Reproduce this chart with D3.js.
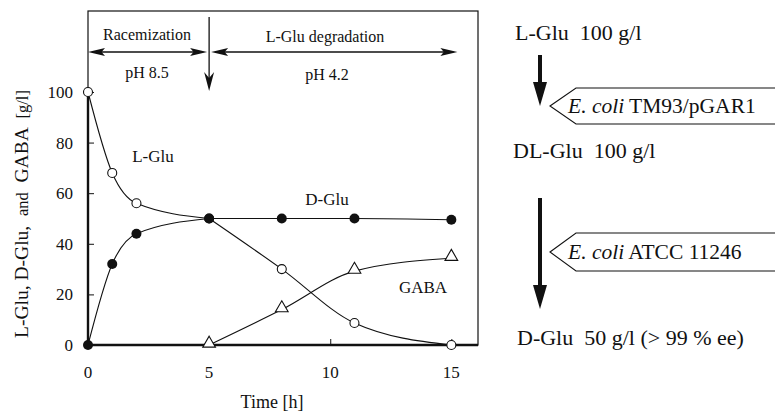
<!DOCTYPE html>
<html>
<head>
<meta charset="utf-8">
<script src="https://cdn.jsdelivr.net/npm/d3@7"></script>
<style>
  body { margin: 0; background: #fff; }
  svg text { font-family: "Liberation Serif", "Times New Roman", serif; fill: #111; }
</style>
</head>
<body>
<svg id="chart" width="775" height="415"></svg>
<script>
// time points [h]
const time = [0, 1, 2, 5, 8, 11, 15];
const lGlu = [100, 68, 56, 50, 30, 8.7, 0];
const dGlu = [0, 32, 44, 50, 50, 50, 49.5];
const gabaTime = [5, 8, 11, 15];
const gaba = [0, 14, 29.2, 34.3];
const xTicks = [0, 5, 10, 15];
const yTicks = [0, 20, 40, 60, 80, 100];
const phaseSwitch = 5;

const svg = d3.select("#chart");
const x = d3.scaleLinear().domain([0, 16.1]).range([88, 478]);
const y = d3.scaleLinear().domain([0, 132]).range([345, 11]);

// frame
svg.append("rect")
    .attr("x", x(0)).attr("y", y(132))
    .attr("width", x(16.1) - x(0)).attr("height", y(0) - y(132))
    .attr("fill", "none").attr("stroke", "#111").attr("stroke-width", 1.2);

// axes: ticks pointing inward, thick baseline
const xAxis = svg.append("g")
    .attr("transform", `translate(0,${y(0)})`)
    .call(d3.axisTop(x).tickValues(xTicks).tickSize(6).tickFormat(""));
xAxis.select(".domain").remove();
xAxis.selectAll("line").attr("stroke", "#111");

const yAxis = svg.append("g")
    .attr("transform", `translate(${x(0)},0)`)
    .call(d3.axisRight(y).tickValues(yTicks).tickSize(6).tickFormat(""));
yAxis.select(".domain").remove();
yAxis.selectAll("line").attr("stroke", "#111");

svg.append("line").attr("x1", x(0)).attr("x2", x(16.1)).attr("y1", y(0)).attr("y2", y(0))
    .attr("stroke", "#111").attr("stroke-width", 2.4);
svg.append("line").attr("x1", x(0)).attr("x2", x(0)).attr("y1", y(0)).attr("y2", y(100))
    .attr("stroke", "#111").attr("stroke-width", 2.4);

svg.append("g").selectAll("text").data(xTicks).join("text")
    .attr("x", d => x(d)).attr("y", 378)
    .attr("text-anchor", "middle").attr("font-size", 17)
    .text(d => d);
svg.append("g").selectAll("text").data(yTicks).join("text")
    .attr("x", 73).attr("y", d => y(d)).attr("dy", "0.35em")
    .attr("text-anchor", "end").attr("font-size", 17)
    .text(d => d);

svg.append("text").attr("x", 272).attr("y", 408)
    .attr("text-anchor", "middle").attr("font-size", 18).text("Time [h]");

const yl = svg.append("text")
    .attr("transform", "translate(28,214) rotate(-90)")
    .attr("text-anchor", "middle").attr("font-size", 19.5)
    .attr("xml:space", "preserve");
yl.append("tspan").text("L-Glu, D-Glu,  ");
yl.append("tspan").attr("font-size", 16.5).text("and");
yl.append("tspan").text("  GABA  ");
yl.append("tspan").attr("font-size", 16.5).text("[g/l]");

// curves, split at the pH switch
const line = d3.line().x(d => x(d[0])).y(d => y(d[1])).curve(d3.curveMonotoneX);
function pieces(ts, vs) {
  const pts = ts.map((t, i) => [t, vs[i]]);
  return [pts.filter(p => p[0] <= phaseSwitch), pts.filter(p => p[0] >= phaseSwitch)]
    .filter(s => s.length > 1);
}
const curves = svg.append("g").attr("fill", "none").attr("stroke", "#111").attr("stroke-width", 1.1);
[[time, lGlu], [time, dGlu], [gabaTime, gaba]].forEach(([ts, vs]) => {
  pieces(ts, vs).forEach(seg => curves.append("path").attr("d", line(seg)));
});

// markers
svg.append("g").selectAll("circle").data(time).join("circle")
    .attr("cx", d => x(d)).attr("cy", (d, i) => y(lGlu[i])).attr("r", 4.5)
    .attr("fill", "#fff").attr("stroke", "#111").attr("stroke-width", 1.1);
svg.append("g").selectAll("circle").data(time).join("circle")
    .attr("cx", d => x(d)).attr("cy", (d, i) => y(dGlu[i])).attr("r", 5)
    .attr("fill", "#111");
const tri = d3.symbol().type(d3.symbolTriangle).size(70);
svg.append("g").selectAll("path").data(gabaTime).join("path")
    .attr("transform", (d, i) => `translate(${x(d)},${y(gaba[i]) - 1.5})`)
    .attr("d", tri).attr("fill", "#fff").attr("stroke", "#111").attr("stroke-width", 1.1);

// curve labels
svg.append("text").attr("x", 153).attr("y", 162).attr("text-anchor", "middle").attr("font-size", 17).text("L-Glu");
svg.append("text").attr("x", 327).attr("y", 205).attr("text-anchor", "middle").attr("font-size", 17).text("D-Glu");
svg.append("text").attr("x", 423).attr("y", 293).attr("text-anchor", "middle").attr("font-size", 17).text("GABA");

// phase annotations
function head(g, xTip, yTip, dir, len, half) {
  // dir: 1 pointing right, -1 pointing left
  g.append("path")
      .attr("d", `M${xTip},${yTip} L${xTip - dir * len},${yTip - half} L${xTip - dir * len * 0.8},${yTip} L${xTip - dir * len},${yTip + half} Z`)
      .attr("fill", "#111");
}
const ann = svg.append("g");
function doubleArrow(x1, x2, yy) {
  ann.append("line").attr("x1", x1 + 4).attr("x2", x2 - 4).attr("y1", yy).attr("y2", yy)
      .attr("stroke", "#111").attr("stroke-width", 1.3);
  head(ann, x1, yy, -1, 17, 4);
  head(ann, x2, yy, 1, 17, 4);
}
doubleArrow(x(0), x(phaseSwitch) - 2, 52);
doubleArrow(x(phaseSwitch) + 2, x(15.25), 52);
ann.append("line").attr("x1", x(phaseSwitch)).attr("x2", x(phaseSwitch)).attr("y1", 17).attr("y2", 86)
    .attr("stroke", "#111").attr("stroke-width", 1.3);
ann.append("path")
    .attr("d", `M${x(phaseSwitch)},91 L${x(phaseSwitch) - 5},72 L${x(phaseSwitch)},78 L${x(phaseSwitch) + 5},72 Z`)
    .attr("fill", "#111");

ann.append("text").attr("x", 147).attr("y", 40).attr("text-anchor", "middle").attr("font-size", 16).text("Racemization");
ann.append("text").attr("x", 147).attr("y", 78).attr("text-anchor", "middle").attr("font-size", 16).text("pH 8.5");
ann.append("text").attr("x", 325).attr("y", 42).attr("text-anchor", "middle").attr("font-size", 16).text("L-Glu degradation");
ann.append("text").attr("x", 327).attr("y", 80).attr("text-anchor", "middle").attr("font-size", 16).text("pH 4.2");

// process scheme on the right
const sch = svg.append("g");
const ax = 540;
function bigArrow(y1, y2) {
  sch.append("line").attr("x1", ax).attr("x2", ax).attr("y1", y1).attr("y2", y2 - 20)
      .attr("stroke", "#111").attr("stroke-width", 4);
  sch.append("path").attr("d", `M${ax},${y2} L${ax - 7},${y2 - 24} L${ax + 7},${y2 - 24} Z`).attr("fill", "#111");
}
bigArrow(55, 106);
bigArrow(198, 309);

function banner(yMid, h, label, rest) {
  sch.append("path")
      .attr("d", `M550,${yMid} L576,${yMid - h / 2} L776,${yMid - h / 2} L776,${yMid + h / 2} L576,${yMid + h / 2} Z`)
      .attr("fill", "#fff").attr("stroke", "#111").attr("stroke-width", 1.1);
  const t = sch.append("text").attr("x", 568).attr("y", yMid + 7).attr("font-size", 21.5);
  t.append("tspan").attr("font-style", "italic").text(label);
  t.append("tspan").text(" " + rest);
}
banner(106, 36, "E. coli", "TM93/pGAR1");
banner(252, 38, "E. coli", "ATCC 11246");

sch.append("text").attr("x", 515).attr("y", 40).attr("font-size", 22).attr("xml:space", "preserve").text("L-Glu  100 g/l");
sch.append("text").attr("x", 513).attr("y", 158).attr("font-size", 22).attr("xml:space", "preserve").text("DL-Glu  100 g/l");
sch.append("text").attr("x", 517).attr("y", 345).attr("font-size", 22).attr("xml:space", "preserve").text("D-Glu  50 g/l (> 99 % ee)");
</script>
</body>
</html>
